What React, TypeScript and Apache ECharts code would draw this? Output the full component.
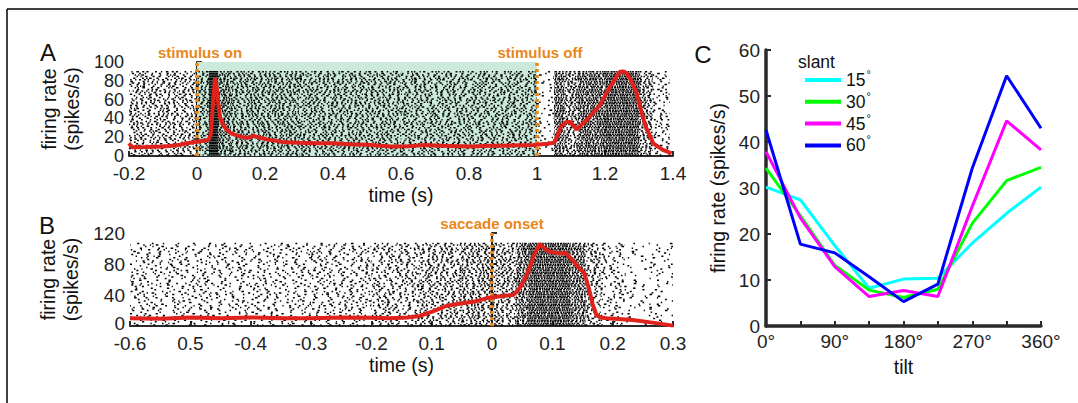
import React, { useEffect, useRef } from "react";
import * as echarts from "echarts";

const FONT = '"Liberation Sans", Arial, Helvetica, sans-serif';

// ---------- Panel A (aligned to stimulus) ----------
const ticksA = ["-0.2", "0", "0.2", "0.4", "0.6", "0.8", "1", "1.2", "1.4"];
const psthA_t = [-0.2, -0.19, -0.15, -0.1, -0.08, -0.05, -0.03, 0, 0.033, 0.04, 0.047, 0.053, 0.058, 0.063, 0.068, 0.077, 0.087, 0.1, 0.117, 0.146, 0.165, 0.18, 0.205, 0.25, 0.3, 0.35, 0.4, 0.45, 0.5, 0.57, 0.62, 0.67, 0.72, 0.77, 0.81, 0.86, 0.9, 0.95, 0.99, 1.03, 1.05, 1.06, 1.07, 1.085, 1.097, 1.117, 1.146, 1.165, 1.185, 1.2, 1.215, 1.23, 1.244, 1.255, 1.264, 1.28, 1.293, 1.305, 1.32, 1.342, 1.37, 1.396];
const psthA_v = [13.5, 9.2, 9.5, 10.2, 10.6, 12, 13.5, 15.2, 17, 22, 55, 83, 72, 55, 41, 33, 28, 24, 22, 19, 21.5, 20, 17.7, 15, 14, 13.5, 13.5, 12.5, 12, 10, 10.5, 11.7, 11, 10.5, 10, 11, 11, 11.5, 11.7, 13, 14, 22, 31, 36, 36.5, 28.4, 38.3, 46, 54, 64, 73.7, 82, 89.7, 90, 88, 78, 66.7, 50, 31, 13.5, 6.4, 2.8];
const rasterA_edges = [-0.2, 0, 0.035, 0.062, 0.1, 0.3, 0.6, 1.0, 1.05, 1.08, 1.12, 1.2, 1.3, 1.34, 1.39];
const rasterA_fill = [0.3, 0.34, 0.95, 0.5, 0.38, 0.34, 0.32, 0.1, 0.6, 0.42, 0.62, 0.72, 0.42, 0.18];
const rasterA_top = 89;
const eventsA = [0, 1];
const eventNamesA = ["stimulus on", "stimulus off"];

// ---------- Panel B (aligned to saccade) ----------
const ticksB = ["-0.6", "0.5", "-0.4", "-0.3", "-0.2", "0.1", "0", "0.1", "0.2", "0.3"];
const psthB_t = [-0.6, -0.55, -0.5, -0.45, -0.4, -0.35, -0.3, -0.25, -0.2, -0.17, -0.14, -0.12, -0.099, -0.076, -0.06, -0.043, -0.025, -0.01, 0.01, 0.035, 0.042, 0.048, 0.055, 0.062, 0.07, 0.079, 0.087, 0.095, 0.11, 0.123, 0.132, 0.14, 0.153, 0.16, 0.167, 0.173, 0.18, 0.19, 0.21, 0.233, 0.26, 0.3];
const psthB_v = [10, 9.5, 11, 10, 11, 10, 10, 11, 10.5, 9.9, 11, 12.9, 18.5, 25.8, 28, 30, 32, 35.7, 38, 40, 45, 51.6, 62, 74.4, 92, 105.8, 100, 95.9, 94, 93.8, 86, 78.7, 68, 50, 28, 14.2, 11, 9.9, 9, 7.7, 5, 0.5];
const rasterB_edges = [-0.6, -0.3, -0.2, -0.12, -0.05, 0, 0.04, 0.06, 0.13, 0.155, 0.18, 0.22, 0.3];
const rasterB_fill = [0.15, 0.18, 0.24, 0.3, 0.36, 0.34, 0.55, 0.72, 0.55, 0.3, 0.17, 0.08];
const rasterB_top = 106;
const eventsB = [0];
const eventNamesB = ["saccade onset"];

// ---------- Panel C (tilt tuning) ----------
const ticksC = ["0°", "90°", "180°", "270°", "360°"];
const tilt = [0, 45, 90, 135, 180, 225, 270, 315, 360];
const slant15 = [30.2, 27.4, 17.5, 8.2, 10.2, 10.4, 18, 24.5, 30.2];
const slant30 = [34.3, 24, 13.2, 7.8, 6.2, 8, 22.3, 31.6, 34.5];
const slant45 = [37.9, 23.5, 12.9, 6.4, 7.7, 6.4, 26, 44.6, 38.3];
const slant60 = [42.6, 17.8, 15.9, 10.7, 5.3, 9.1, 34.3, 54.4, 43];
const slantNames = ["15", "30", "45", "60"];
const slantColors = ["#00ffff", "#00ff00", "#ff00ff", "#0000ff"];

const RED = "#e0221d";
const ORANGE = "#e8871a";
const AXIS = "#2a2a2a";

function zip(a: number[], b: number[]) {
  return a.map((v, i) => [v, b[i]]);
}
function bins(edges: number[], fill: number[]) {
  return fill.map((f, i) => [edges[i], edges[i + 1], f]);
}

// texture constants for the raster speckle (irregular dash spacing)
const GAP_SCALE = [0.45, 1.6, 0.8, 1.25, 0.6, 1.45, 1.0, 0.7, 1.3, 0.9, 1.15, 0.55, 1.7, 0.85];
const DASH_LEN = [1.5, 2.2, 1.2, 1.8, 2.6, 1.4, 2.0];
const ROW_SHIFT = [0.13, 0.71, 0.42, 0.93, 0.27, 0.58, 0.05, 0.84, 0.36, 0.66, 0.19, 0.77, 0.49, 0.98, 0.31, 0.62, 0.09];

function makeRaster(top: number) {
  return (params: any, api: any) => {
    const t0 = api.value(0);
    const t1 = api.value(1);
    const fill = api.value(2);
    const pA = api.coord([t0, top]);
    const pB = api.coord([t1, 0]);
    const rowGap = 1.6;
    const nRows = Math.floor((pB[1] - pA[1]) / rowGap);
    const children: any[] = [];
    for (let r = 0; r <= nRows; r++) {
      const y = pB[1] - 1 - r * rowGap;
      const dash: number[] = [];
      let total = 0;
      for (let k = 0; k < 5; k++) {
        const d = DASH_LEN[(r * 3 + k * 2 + params.dataIndex) % DASH_LEN.length];
        const g = Math.max((d / Math.max(fill, 0.02) - d) * GAP_SCALE[(r * 5 + k * 3 + params.dataIndex * 7) % GAP_SCALE.length], 0.01);
        dash.push(d, g);
        total += d + g;
      }
      const off = ROW_SHIFT[(r * 3 + params.dataIndex * 5) % ROW_SHIFT.length] * total;
      children.push({
        type: "line",
        silent: true,
        shape: { x1: pA[0], y1: y, x2: pB[0], y2: y },
        style: {
          stroke: "#000",
          lineWidth: 1.5,
          lineDash: fill >= 0.99 ? null : dash,
          lineDashOffset: off,
        },
      });
    }
    return { type: "group", children };
  };
}

function eventSeries(xi: number, x: number, top: number) {
  return {
    type: "line", xAxisIndex: xi, yAxisIndex: xi, z: 4, silent: true,
    data: [[x, 0], [x, top]], showSymbol: false,
    lineStyle: { color: ORANGE, width: 3.5, type: [3, 3], cap: "butt" },
  };
}

const tickLabelStyle = { fontSize: 19, color: "#222", fontFamily: FONT };
const nameStyle = { fontSize: 19.5, color: "#111", fontFamily: FONT, lineHeight: 23 };
const zeroFmt = (v: number) => (v === 0 ? "{z|0}" : String(v));
function zeroRich(size: number) {
  return { z: { fontSize: size, lineHeight: 13, color: "#222", fontFamily: FONT, padding: [0, 0, 6, 0] } };
}

function axisCommon(width: number) {
  return {
    axisLine: { show: true, lineStyle: { color: AXIS, width } },
    axisTick: { show: true, inside: true, length: 5, lineStyle: { color: AXIS, width: 2 } },
    splitLine: { show: false },
  };
}

export default function App() {
  const ref = useRef<HTMLDivElement>(null);
  useEffect(() => {
    if (!ref.current) return;
    const chart = echarts.init(ref.current, undefined, { renderer: "svg" });
    const option: any = {
      animation: false,
      backgroundColor: "#fff",
      textStyle: { fontFamily: FONT },
      grid: [
        { left: 129, top: 62, width: 544, height: 94 },
        { left: 130, top: 233, width: 543, height: 93 },
        { left: 766, top: 50, width: 275, height: 276 },
      ],
      xAxis: [
        {
          gridIndex: 0, type: "value", min: -0.2, max: 1.4, interval: 0.2,
          ...axisCommon(2),
          axisLabel: { ...tickLabelStyle, margin: 8, hideOverlap: false, showMinLabel: true, showMaxLabel: true, formatter: (v: number) => ticksA[Math.round((v + 0.2) / 0.2)] },
          name: "time (s)", nameLocation: "middle", nameGap: 27, nameTextStyle: nameStyle,
        },
        {
          gridIndex: 1, type: "value", min: -0.6, max: 0.3, interval: 0.1,
          ...axisCommon(2),
          axisLabel: { ...tickLabelStyle, margin: 8, hideOverlap: false, showMinLabel: true, showMaxLabel: true, formatter: (v: number) => ticksB[Math.round((v + 0.6) / 0.1)] },
          name: "time (s)", nameLocation: "middle", nameGap: 27, nameTextStyle: nameStyle,
        },
        {
          gridIndex: 2, type: "value", min: 0, max: 360, interval: 45,
          ...axisCommon(3.5),
          axisLabel: { ...tickLabelStyle, margin: 6, hideOverlap: false, showMinLabel: true, showMaxLabel: true, formatter: (v: number) => (v % 90 === 0 ? ticksC[v / 90] : "") },
          name: "tilt", nameLocation: "middle", nameGap: 28, nameTextStyle: nameStyle,
        },
      ],
      yAxis: [
        {
          gridIndex: 0, type: "value", min: 0, max: 100, interval: 20,
          ...axisCommon(2),
          axisLabel: { fontSize: 18, lineHeight: 15, color: "#222", fontFamily: FONT, margin: 5, hideOverlap: false, showMinLabel: true, showMaxLabel: true },
          name: "firing rate\n(spikes/s)", nameLocation: "middle", nameRotate: 90, nameGap: 40, nameTextStyle: nameStyle,
        },
        {
          gridIndex: 1, type: "value", min: 0, max: 120, interval: 40,
          ...axisCommon(2),
          axisLabel: { ...tickLabelStyle, lineHeight: 15, margin: 5, hideOverlap: false, showMinLabel: true, showMaxLabel: true, formatter: zeroFmt, rich: zeroRich(19) },
          name: "firing rate\n(spikes/s)", nameLocation: "middle", nameRotate: 90, nameGap: 40, nameTextStyle: nameStyle,
        },
        {
          gridIndex: 2, type: "value", min: 0, max: 60, interval: 10,
          ...axisCommon(3.5),
          axisLabel: { ...tickLabelStyle, margin: 6, hideOverlap: false, showMinLabel: true, showMaxLabel: true },
          name: "firing rate (spikes/s)", nameLocation: "middle", nameRotate: 90, nameGap: 37, nameTextStyle: nameStyle,
        },
      ],
      legend: {
        orient: "vertical",
        left: 800,
        top: 63.5,
        itemWidth: 36,
        itemHeight: 4,
        itemGap: 1.3,
        icon: "rect",
        data: slantNames,
        formatter: (n: string) => `{n|${n}}{s|°}`,
        textStyle: {
          color: "#111",
          fontFamily: FONT,
          fontSize: 17,
          rich: {
            n: { fontSize: 17.5, lineHeight: 23, fontFamily: FONT, color: "#111", verticalAlign: "middle" },
            s: { fontSize: 11, fontFamily: FONT, color: "#111", verticalAlign: "top", padding: [0, 0, 0, 1] },
          },
        },
      },
      series: [
        // stimulus shading
        {
          type: "custom", xAxisIndex: 0, yAxisIndex: 0, z: 1, silent: true,
          data: [[eventsA[0], eventsA[1]]],
          renderItem: (params: any, api: any) => {
            const p0 = api.coord([api.value(0), 100]);
            const p1 = api.coord([api.value(1), 0]);
            return { type: "rect", shape: { x: p0[0], y: p0[1], width: p1[0] - p0[0], height: p1[1] - p0[1] }, style: { fill: "#cbeadb" } };
          },
        },
        {
          type: "custom", xAxisIndex: 0, yAxisIndex: 0, z: 2, silent: true,
          data: bins(rasterA_edges, rasterA_fill),
          renderItem: makeRaster(rasterA_top),
        },
        {
          type: "custom", xAxisIndex: 1, yAxisIndex: 1, z: 2, silent: true,
          data: bins(rasterB_edges, rasterB_fill),
          renderItem: makeRaster(rasterB_top),
        },
        ...eventsA.map((x) => eventSeries(0, x, 100)),
        ...eventsB.map((x) => eventSeries(1, x, 120)),
        {
          name: "PSTH A", type: "line", xAxisIndex: 0, yAxisIndex: 0, z: 5,
          data: zip(psthA_t, psthA_v), showSymbol: false,
          lineStyle: { color: RED, width: 4 },
        },
        {
          name: "PSTH B", type: "line", xAxisIndex: 1, yAxisIndex: 1, z: 5,
          data: zip(psthB_t, psthB_v), showSymbol: false,
          lineStyle: { color: RED, width: 4 },
        },
        ...[slant15, slant30, slant45, slant60].map((arr, i) => ({
          name: slantNames[i], type: "line", xAxisIndex: 2, yAxisIndex: 2, z: 5 + i,
          data: zip(tilt, arr), showSymbol: false, color: slantColors[i],
          lineStyle: { color: slantColors[i], width: 3 },
          itemStyle: { color: slantColors[i] },
        })),
      ],
      graphic: [
        { type: "line", shape: { x1: 7, y1: 9, x2: 1078, y2: 9 }, style: { stroke: "#000", lineWidth: 1.5 } },
        { type: "line", shape: { x1: 7, y1: 9, x2: 7, y2: 403 }, style: { stroke: "#000", lineWidth: 1.5 } },
        { type: "text", x: 48, y: 52, style: { text: "A", fontSize: 24, fontFamily: FONT, fill: "#111", textAlign: "center", textVerticalAlign: "middle" } },
        { type: "text", x: 47, y: 225, style: { text: "B", fontSize: 24, fontFamily: FONT, fill: "#111", textAlign: "center", textVerticalAlign: "middle" } },
        { type: "text", x: 703, y: 54, style: { text: "C", fontSize: 24, fontFamily: FONT, fill: "#111", textAlign: "center", textVerticalAlign: "middle" } },
        { type: "text", x: 798, y: 62, style: { text: "slant", fontSize: 17.5, fontFamily: FONT, fill: "#111", textAlign: "left", textVerticalAlign: "middle" } },
      ],
    };
    chart.setOption(option);
    // event labels placed from the data through the axes
    const labels: any[] = [];
    eventsA.forEach((x, i) => {
      const p = chart.convertToPixel({ gridIndex: 0 } as any, [x, 100]) as number[];
      labels.push({ type: "text", x: p[0] + 3, y: p[1] - 10, style: { text: eventNamesA[i], fontSize: 15, fontWeight: "bold", fontFamily: FONT, fill: ORANGE, textAlign: "center", textVerticalAlign: "middle" } });
    });
    eventsB.forEach((x, i) => {
      const p = chart.convertToPixel({ gridIndex: 1 } as any, [x, 120]) as number[];
      labels.push({ type: "text", x: p[0], y: p[1] - 10, style: { text: eventNamesB[i], fontSize: 15, fontWeight: "bold", fontFamily: FONT, fill: ORANGE, textAlign: "center", textVerticalAlign: "middle" } });
    });
    chart.setOption({ graphic: [...option.graphic, ...labels] });
    return () => chart.dispose();
  }, []);
  return <div ref={ref} style={{ position: "absolute", left: 0, top: 0, width: 1078, height: 403, background: "#fff" }} />;
}
